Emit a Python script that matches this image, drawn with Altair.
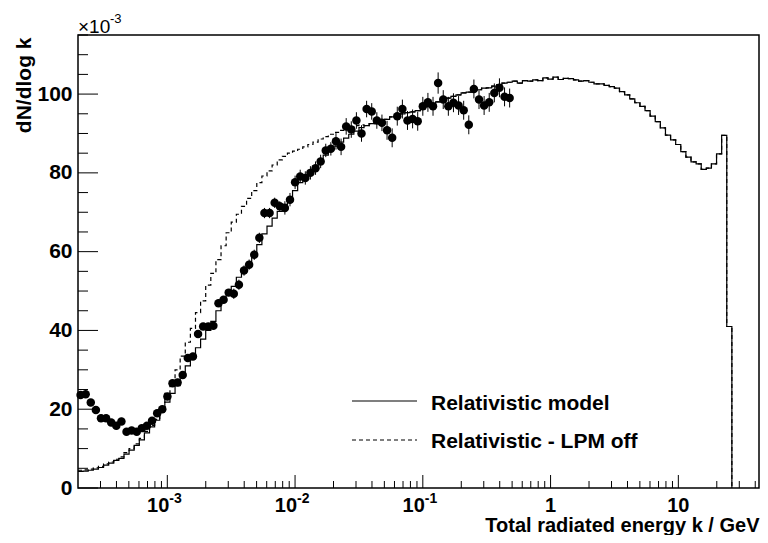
import altair as alt
import numpy as np
import pandas as pd

# ---------------- data ----------------
X_MIN, X_MAX = 2e-4, 42.8          # GeV, visible log axis range
BIN_MIN, BIN_MAX = 2e-4, 50.0      # histogram binning range
N_BINS = 135                       # log-spaced bins

# "Relativistic model" histogram (bins 0..127, then empty)
solid = [4.2, 4.3, 4.5, 4.8, 5.2, 5.8, 6.3, 7.0, 7.5, 8.6,
         9.6, 10.8, 12.2, 14.0, 15.5, 17.2, 19.5, 21.8, 24.0, 26.0,
         28.5, 31.0, 33.5, 35.6, 37.8, 40.0, 42.3, 45.0, 47.3, 49.0,
         51.2, 53.5, 55.5, 57.3, 59.5, 61.8, 64.5, 66.5, 68.5, 70.2,
         72.0, 73.5, 75.5, 77.5, 79.0, 80.3, 81.8, 83.0, 84.5, 85.8,
         86.8, 87.8, 88.8, 89.8, 90.6, 91.5, 92.0, 92.5, 92.8, 93.2,
         93.6, 94.2, 94.8, 95.0, 95.3, 95.5, 95.8, 96.3, 96.8, 97.3,
         98.0, 98.6, 99.0, 99.4, 99.8, 100.3, 100.5, 100.8, 101.1, 101.5,
         101.6, 102.0, 102.4, 102.8, 103.0, 103.3, 102.8, 103.4, 103.3, 103.6,
         103.4, 104.1, 103.8, 104.3, 103.7, 104.0, 103.9, 103.6, 103.3, 103.4,
         103.0, 102.6, 102.6, 102.2, 101.9, 101.5, 100.6, 99.8, 98.8, 97.8,
         96.9, 95.8, 94.4, 93.0, 91.4, 89.6, 88.4, 87.2, 85.4, 84.0,
         82.8, 82.3, 80.9, 81.2, 82.3, 84.8, 89.5, 41.0]

# "Relativistic - LPM off" histogram where it differs (bins 0..55);
# above that it lies on top of the solid one
dashed_low = [4.5, 4.6, 4.8, 5.1, 5.5, 6.1, 6.6, 7.3, 7.9, 9.0,
              10.0, 11.2, 12.6, 14.4, 15.9, 17.4, 19.8, 24.0, 27.0, 30.0,
              33.5, 37.0, 40.5, 44.5, 47.5, 51.5, 54.5, 58.0, 61.5, 64.8,
              67.5, 69.5, 71.5, 73.5, 75.5, 77.5, 79.2, 80.5, 82.0, 83.3,
              84.2, 85.0, 85.5, 86.0, 86.6, 87.2, 87.8, 88.6, 89.2, 89.8,
              90.3, 90.8, 91.2, 91.6, 92.0, 92.2]

# measured points (bins 0..84) and their errors
points = [23.6, 23.8, 21.7, 19.8, 17.7, 17.7, 16.6, 15.8, 16.9, 14.3,
          14.6, 14.3, 15.2, 15.8, 17.1, 19.0, 20.0, 23.2, 26.6, 26.8,
          28.7, 33.0, 33.4, 39.1, 41.0, 41.0, 41.2, 46.9, 47.8, 49.6,
          49.3, 51.6, 55.2, 56.7, 59.2, 63.5, 69.8, 69.8, 72.4, 71.5,
          71.1, 73.2, 77.6, 79.1, 78.7, 80.0, 81.2, 82.9, 85.7, 86.1,
          88.0, 86.6, 91.8, 91.0, 93.3, 90.0, 96.2, 95.6, 93.3, 92.7,
          90.8, 88.9, 94.4, 96.2, 93.3, 93.7, 93.1, 96.9, 97.9, 96.9,
          102.8, 98.6, 96.9, 97.8, 97.1, 95.9, 92.2, 101.3, 98.6, 97.1,
          97.9, 100.3, 101.6, 99.3, 99.0]
errors = [0.9, 0.9, 0.9, 0.9, 0.9, 0.9, 0.9, 0.9, 0.9, 0.9,
          0.9, 0.9, 0.9, 0.9, 0.9, 0.9, 0.9, 0.9, 0.9, 0.9,
          0.9, 0.9, 0.9, 0.9, 0.9, 0.9, 0.9, 0.9, 0.9, 0.9,
          1.3, 1.3, 1.3, 1.3, 1.3, 1.3, 1.3, 1.3, 1.3, 1.3,
          1.7, 1.7, 1.7, 1.7, 1.7, 1.7, 1.7, 1.7, 1.7, 1.7,
          2.1, 2.1, 2.1, 2.1, 2.1, 2.1, 2.1, 2.1, 2.1, 2.1,
          2.4, 2.4, 2.4, 2.4, 2.4, 2.4, 2.4, 2.4, 2.4, 2.4,
          2.7, 2.4, 2.4, 2.4, 2.4, 2.4, 2.4, 2.4, 2.4, 2.4,
          2.4, 2.4, 2.4, 2.4, 2.4]

# axis ticks / labels
y_major = [0, 20, 40, 60, 80, 100]
y_minor = [5, 10, 15, 25, 30, 35, 45, 50, 55, 65, 70, 75, 85, 90, 95, 105, 110, 115]
x_major = [1e-3, 1e-2, 1e-1, 1.0, 10.0]
x_minor = [3e-4, 4e-4, 5e-4, 6e-4, 7e-4, 8e-4, 9e-4,
           2e-3, 3e-3, 4e-3, 5e-3, 6e-3, 7e-3, 8e-3, 9e-3,
           2e-2, 3e-2, 4e-2, 5e-2, 6e-2, 7e-2, 8e-2, 9e-2,
           0.2, 0.3, 0.4, 0.5, 0.6, 0.7, 0.8, 0.9,
           2.0, 3.0, 4.0, 5.0, 6.0, 7.0, 8.0, 9.0,
           20.0, 30.0, 40.0]
pow_ticks = [1e-3, 1e-2, 1e-1]
pow_base = ["10", "10", "10"]
pow_exp = ["-3", "-2", "-1"]
plain_ticks = [1.0, 10.0]
plain_text = ["1", "10"]

LABEL_SOLID = "Relativistic model"
LABEL_DASHED = "Relativistic - LPM off"
X_TITLE = "Total radiated energy k / GeV"
Y_TITLE = "dN/dlog k"

# ---------------- build tables ----------------
edges = np.logspace(np.log10(BIN_MIN), np.log10(BIN_MAX), N_BINS + 1)
centers = np.sqrt(edges[:-1] * edges[1:])

dashed = dashed_low + solid[len(dashed_low):]
solid_df = pd.DataFrame({"x": edges[:len(solid) + 1], "y": solid + [0.0]})
dashed_df = pd.DataFrame({"x": edges[:len(dashed) + 1], "y": dashed + [0.0]})
pts_df = pd.DataFrame({
    "x": centers[:len(points)],
    "y": points,
    "lo": [p - e for p, e in zip(points, errors)],
    "hi": [p + e for p, e in zip(points, errors)],
})

FONT = "Liberation Sans"
W, H = 681, 453

xscale = alt.Scale(type="log", domain=[X_MIN, X_MAX], nice=False)
yscale = alt.Scale(domain=[0, 115], nice=False, zero=False)

x_axis = alt.Axis(labels=False, ticks=False, domain=False, grid=False,
                  title=X_TITLE, titleFont=FONT, titleFontSize=20,
                  titleFontWeight="bold", titleColor="black",
                  titleX=W, titleY=43, titleAlign="right",
                  titleBaseline="alphabetic", titleAnchor="end")
y_axis = alt.Axis(values=y_major, labelFont=FONT, labelFontSize=21,
                  labelFontWeight="bold", labelColor="black", labelPadding=6,
                  ticks=False, tickSize=0, domain=False, grid=False,
                  title=Y_TITLE, titleFont=FONT, titleFontSize=21,
                  titleFontWeight="bold", titleColor="black",
                  titleAngle=270, titleX=-54, titleY=2, titleAlign="right",
                  titleBaseline="middle", titleAnchor="end")


def X(field):
    return alt.X(field, type="quantitative", scale=xscale, axis=x_axis)


def Y(field):
    return alt.Y(field, type="quantitative", scale=yscale, axis=y_axis)


dashed_line = alt.Chart(dashed_df).mark_line(
    interpolate="step-after", color="black", strokeWidth=1.2, strokeDash=[4, 3]
).encode(x=X("x"), y=Y("y"))

solid_line = alt.Chart(solid_df).mark_line(
    interpolate="step-after", color="black", strokeWidth=1.2
).encode(x=X("x"), y=Y("y"))

err_bars = alt.Chart(pts_df).mark_rule(color="black", strokeWidth=1).encode(
    x=X("x"), y=Y("lo"), y2="hi")

dots = alt.Chart(pts_df).mark_circle(size=72, color="black", opacity=1).encode(
    x=X("x"), y=Y("y"))

# ticks drawn inward (ROOT style)
ymaj = alt.Chart(pd.DataFrame({"v": y_major})).mark_rule(color="black", strokeWidth=1).encode(
    y=Y("v"), x=alt.value(0), x2=alt.value(20))
ymin = alt.Chart(pd.DataFrame({"v": y_minor})).mark_rule(color="black", strokeWidth=1).encode(
    y=Y("v"), x=alt.value(0), x2=alt.value(10))
xmaj = alt.Chart(pd.DataFrame({"v": x_major})).mark_rule(color="black", strokeWidth=1).encode(
    x=X("v"), y=alt.value(H), y2=alt.value(H - 13))
xmin = alt.Chart(pd.DataFrame({"v": x_minor})).mark_rule(color="black", strokeWidth=1).encode(
    x=X("v"), y=alt.value(H), y2=alt.value(H - 7))

# x tick labels with superscript exponents
pow_df = pd.DataFrame({"v": pow_ticks, "base": pow_base, "exp": pow_exp})
plain_df = pd.DataFrame({"v": plain_ticks, "t": plain_text})
lab_base = alt.Chart(pow_df).mark_text(
    align="right", baseline="alphabetic", dx=2, font=FONT, fontSize=20,
    fontWeight="bold", color="black").encode(x=X("v"), y=alt.value(H + 24), text="base:N")
lab_exp = alt.Chart(pow_df).mark_text(
    align="left", baseline="alphabetic", dx=2, font=FONT, fontSize=14,
    fontWeight="bold", color="black").encode(x=X("v"), y=alt.value(H + 15), text="exp:N")
lab_plain = alt.Chart(plain_df).mark_text(
    align="center", baseline="alphabetic", font=FONT, fontSize=20,
    fontWeight="bold", color="black").encode(x=X("v"), y=alt.value(H + 24), text="t:N")

# y multiplier "x10^-3"
mult_df = pd.DataFrame({"a": ["\u00d710"], "b": ["-3"]})
mult_a = alt.Chart(mult_df).mark_text(
    align="left", baseline="alphabetic", font=FONT, fontSize=19, color="black"
).encode(x=alt.value(0), y=alt.value(-2), text="a:N")
mult_b = alt.Chart(mult_df).mark_text(
    align="left", baseline="alphabetic", font=FONT, fontSize=13, color="black"
).encode(x=alt.value(32), y=alt.value(-12), text="b:N")

# legend
leg_df = pd.DataFrame({"s": [LABEL_SOLID], "d": [LABEL_DASHED]})
leg_line1 = alt.Chart(leg_df).mark_rule(color="black", strokeWidth=1.2).encode(
    x=alt.value(274), x2=alt.value(339), y=alt.value(366))
leg_line2 = alt.Chart(leg_df).mark_rule(color="black", strokeWidth=1.2, strokeDash=[4, 3]).encode(
    x=alt.value(274), x2=alt.value(339), y=alt.value(405))
leg_t1 = alt.Chart(leg_df).mark_text(
    align="left", baseline="alphabetic", font=FONT, fontSize=21, fontWeight="bold",
    color="black").encode(x=alt.value(353), y=alt.value(375), text="s:N")
leg_t2 = alt.Chart(leg_df).mark_text(
    align="left", baseline="alphabetic", font=FONT, fontSize=21, fontWeight="bold",
    color="black").encode(x=alt.value(353), y=alt.value(413), text="d:N")

chart = alt.layer(
    dashed_line, solid_line, err_bars, dots,
    ymaj, ymin, xmaj, xmin,
    lab_base, lab_exp, lab_plain, mult_a, mult_b,
    leg_line1, leg_line2, leg_t1, leg_t2,
).properties(
    width=W, height=H,
    autosize=alt.AutoSizeParams(type="none"),
    padding={"left": 70, "top": 27, "right": 1, "bottom": 47},
    background="white",
).configure_view(
    stroke="black", strokeWidth=1.5
).configure_axis(grid=False)

chart.save("out.html", embed_options={"renderer": "svg", "actions": False})
